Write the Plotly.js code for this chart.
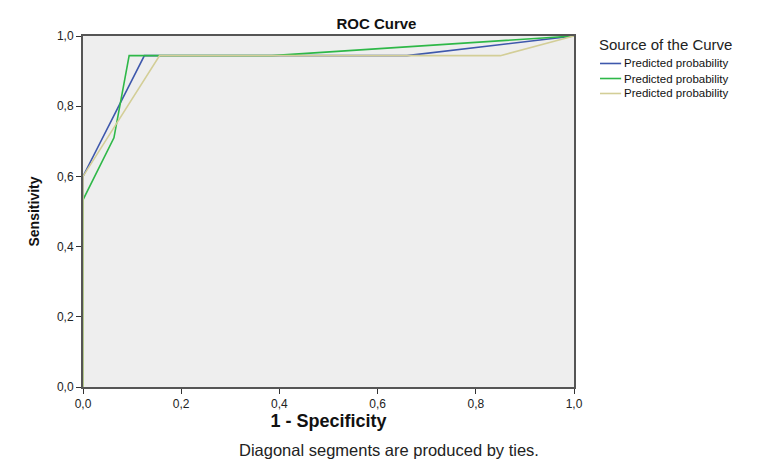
<!DOCTYPE html>
<html>
<head>
<meta charset="utf-8">
<script src="https://cdn.plot.ly/plotly-3.0.1.min.js"></script>
<style>
html,body{margin:0;padding:0;background:#fff;}
#chart{width:759px;height:466px;}
</style>
</head>
<body>
<div id="chart"></div>
<script>
// Data
const seriesNames = ["Predicted probability", "Predicted probability", "Predicted probability"];
const blueX  = [0, 0, 0.125, 0.66, 1];
const blueY  = [0, 0.6, 0.944, 0.944, 1];
const greenX = [0, 0, 0.063, 0.094, 0.385, 1];
const greenY = [0, 0.533, 0.71, 0.944, 0.944, 1];
const tanX   = [0, 0, 0.156, 0.85, 1];
const tanY   = [0, 0.6, 0.944, 0.944, 1];
const tickVals = [0, 0.2, 0.4, 0.6, 0.8, 1.0];
const tickLabels = ["0,0", "0,2", "0,4", "0,6", "0,8", "1,0"];
const colors = ["#3E58AC", "#2EB848", "#D3CE97"];
const legendTitle = "Source of the Curve";
const footnote = "Diagonal segments are produced by ties.";

const xs = [blueX, greenX, tanX];
const ys = [blueY, greenY, tanY];
const traces = xs.map((x, i) => ({
  x: x, y: ys[i], type: "scatter", mode: "lines",
  name: seriesNames[i],
  line: {color: colors[i], width: 1.6},
  hoverinfo: "skip",
  showlegend: false
}));

const font = "Liberation Sans, Arial, sans-serif";
const axisCommon = {
  range: [0, 1],
  tickvals: tickVals,
  ticktext: tickLabels,
  ticks: "outside",
  ticklen: 5,
  tickwidth: 1,
  tickcolor: "#333",
  showline: true,
  linecolor: "#555",
  linewidth: 2,
  mirror: true,
  showgrid: false,
  zeroline: false,
  fixedrange: true,
  tickfont: {family: font, size: 12, color: "#222"}
};

// Legend (SPSS style, compact spacing) in paper coordinates
const legX0 = 1.053, legX1 = 1.096, legTextX = 1.1;
const legYs = [0.9217, 0.8789, 0.8362];
const shapes = seriesNames.map((n, i) => ({
  type: "line", xref: "paper", yref: "paper",
  x0: legX0, x1: legX1, y0: legYs[i], y1: legYs[i],
  line: {color: colors[i], width: 1.6}
}));
const annotations = seriesNames.map((n, i) => ({
  text: n, xref: "paper", yref: "paper", x: legTextX, y: legYs[i],
  xanchor: "left", yanchor: "middle", showarrow: false, borderpad: 0,
  font: {family: font, size: 11.5, color: "#111"}
}));
annotations.push({
  text: legendTitle, xref: "paper", yref: "paper", x: 1.049, y: 0.9744,
  xanchor: "left", yanchor: "middle", showarrow: false, borderpad: 0,
  font: {family: font, size: 15, color: "#222"}
});
annotations.push({
  text: footnote,
  xref: "paper", yref: "paper", x: 0.623, y: -0.1795,
  xanchor: "center", yanchor: "middle", showarrow: false,
  font: {family: font, size: 16.5, color: "#222"}
});

const layout = {
  width: 759, height: 466,
  margin: {l: 83, r: 185, t: 36, b: 79},
  paper_bgcolor: "#ffffff",
  plot_bgcolor: "#eeeeee",
  title: {text: "<b>ROC Curve</b>", font: {family: font, size: 15, color: "#111"},
          x: 0.496, xanchor: "center", y: 0.95, yanchor: "middle"},
  xaxis: Object.assign({}, axisCommon, {
    title: {text: "<b>1 - Specificity</b>", font: {family: font, size: 18, color: "#111"}, standoff: 4}
  }),
  yaxis: Object.assign({}, axisCommon, {
    title: {text: "<b>Sensitivity</b>", font: {family: font, size: 14, color: "#111"}, standoff: 14}
  }),
  showlegend: false,
  shapes: shapes,
  annotations: annotations
};

Plotly.newPlot("chart", traces, layout, {staticPlot: true, displayModeBar: false});
</script>
</body>
</html>
